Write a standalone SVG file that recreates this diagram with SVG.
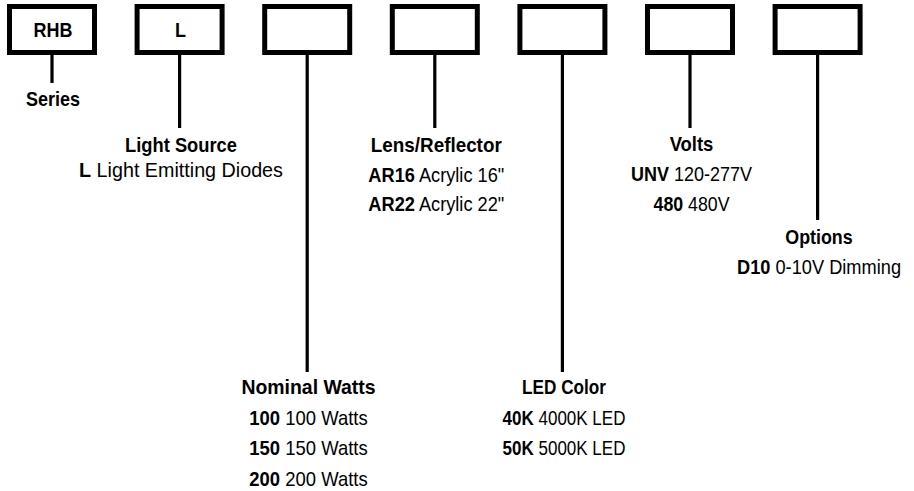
<svg xmlns="http://www.w3.org/2000/svg" width="914" height="491" viewBox="0 0 914 491">
<style>
  .box { fill: #fff; stroke: #000; stroke-width: 5; }
  .conn { stroke: #000; stroke-width: 3.2; fill: none; }
  text { font-family: "Liberation Sans", Arial, sans-serif; font-size: 21px; fill: #000; text-anchor: middle; }
  .b { font-weight: bold; }
</style>
<rect width="914" height="491" fill="#fff"/>
<g id="connectors">
  <line class="conn" x1="52" y1="55" x2="52" y2="83"/>
  <line class="conn" x1="179.6" y1="55" x2="179.6" y2="128"/>
  <line class="conn" x1="307.2" y1="55" x2="307.2" y2="372"/>
  <line class="conn" x1="434.8" y1="55" x2="434.8" y2="128"/>
  <line class="conn" x1="562.4" y1="55" x2="562.4" y2="372"/>
  <line class="conn" x1="690" y1="55" x2="690" y2="128"/>
  <line class="conn" x1="817.6" y1="55" x2="817.6" y2="220"/>
</g>
<g id="box-series">
  <rect class="box" x="9.5" y="6.5" width="85" height="46"/>
  <text class="b" transform="translate(53,37) scale(0.857,1)">RHB</text>
</g>
<g id="box-source">
  <rect class="box" x="137.1" y="6.5" width="85" height="46"/>
  <text class="b" transform="translate(180.6,37) scale(0.86,1)">L</text>
</g>
<g id="box-watts">
  <rect class="box" x="264.7" y="6.5" width="85" height="46"/>
</g>
<g id="box-lens">
  <rect class="box" x="392.3" y="6.5" width="85" height="46"/>
</g>
<g id="box-color">
  <rect class="box" x="519.9" y="6.5" width="85" height="46"/>
</g>
<g id="box-volts">
  <rect class="box" x="647.5" y="6.5" width="85" height="46"/>
</g>
<g id="box-options">
  <rect class="box" x="775.1" y="6.5" width="85" height="46"/>
</g>
<g id="label-series">
  <text class="b" transform="translate(53,106) scale(0.857,1)">Series</text>
</g>
<g id="label-source">
  <text class="b" transform="translate(181,151.5) scale(0.872,1)">Light Source</text>
  <text transform="translate(181,177) scale(0.94,1)"><tspan class="b">L</tspan> Light Emitting Diodes</text>
</g>
<g id="label-watts">
  <text class="b" transform="translate(308.5,394) scale(0.926,1)">Nominal Watts</text>
  <text transform="translate(308.5,425) scale(0.879,1)"><tspan class="b">100</tspan> 100 Watts</text>
  <text transform="translate(308.5,455) scale(0.879,1)"><tspan class="b">150</tspan> 150 Watts</text>
  <text transform="translate(308.5,486) scale(0.879,1)"><tspan class="b">200</tspan> 200 Watts</text>
</g>
<g id="label-lens">
  <text class="b" transform="translate(436.3,151.5) scale(0.898,1)">Lens/Reflector</text>
  <text transform="translate(436.3,181.5) scale(0.867,1)"><tspan class="b">AR16</tspan> Acrylic 16"</text>
  <text transform="translate(436.3,210.5) scale(0.867,1)"><tspan class="b">AR22</tspan> Acrylic 22"</text>
</g>
<g id="label-color">
  <text class="b" transform="translate(564,394) scale(0.818,1)">LED Color</text>
  <text transform="translate(564,425) scale(0.81,1)"><tspan class="b">40K</tspan> 4000K LED</text>
  <text transform="translate(564,455) scale(0.81,1)"><tspan class="b">50K</tspan> 5000K LED</text>
</g>
<g id="label-volts">
  <text class="b" transform="translate(691.5,150.5) scale(0.877,1)">Volts</text>
  <text transform="translate(691.5,180.5) scale(0.857,1)"><tspan class="b">UNV</tspan> 120-277V</text>
  <text transform="translate(691.5,210.5) scale(0.845,1)"><tspan class="b">480</tspan> 480V</text>
</g>
<g id="label-options">
  <text class="b" transform="translate(819,243.5) scale(0.85,1)">Options</text>
  <text transform="translate(819,273.5) scale(0.868,1)"><tspan class="b">D10</tspan> 0-10V Dimming</text>
</g>
</svg>
